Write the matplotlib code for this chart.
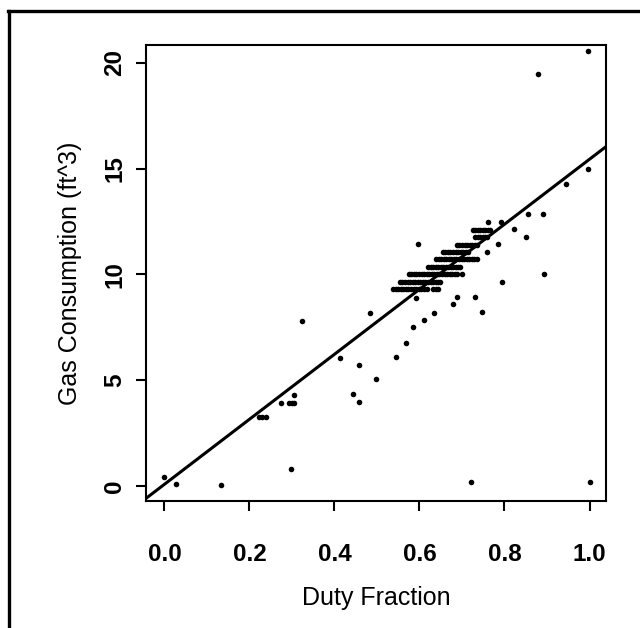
import matplotlib.pyplot as plt
from matplotlib.lines import Line2D

plt.rcParams['font.family'] = ['Liberation Sans', 'DejaVu Sans']

# isolated observations (duty fraction, gas consumption ft^3)
duty = [0.000, 0.027, 0.133, 0.222, 0.230, 0.238, 0.274, 0.294, 0.300, 0.305,
        0.305, 0.298, 0.324, 0.413, 0.444, 0.458, 0.458, 0.483, 0.497, 0.545,
        0.568, 0.585, 0.611, 0.634, 0.680, 0.746, 0.593, 0.688, 0.731, 0.597,
        0.785, 0.758, 0.639, 0.695, 0.701, 0.793, 0.762, 0.792, 0.823, 0.996,
        0.880, 0.996, 0.945, 0.856, 0.891, 0.851, 0.893, 1.000, 0.721]
gas = [0.40, 0.07, 0.05, 3.24, 3.24, 3.24, 3.93, 3.93, 3.93, 3.93,
       4.29, 0.78, 7.81, 6.06, 4.33, 3.96, 5.71, 8.19, 5.05, 6.08,
       6.77, 7.50, 7.84, 8.19, 8.58, 8.21, 8.90, 8.92, 8.92, 11.42,
       11.42, 11.05, 10.71, 10.35, 10.02, 9.65, 12.47, 12.47, 12.13, 20.57,
       19.47, 14.97, 14.28, 12.86, 12.86, 11.78, 10.02, 0.19, 0.18]

# dense runs of readings at the same (quantised) gas value
level_gas = [12.1, 11.75, 11.4, 11.05, 10.7, 10.35, 10.0, 9.65, 9.3]
level_duty = [
    [0.725, 0.731, 0.737, 0.743, 0.749, 0.755, 0.761, 0.766],
    [0.731, 0.737, 0.743, 0.749, 0.755, 0.759],
    [0.688, 0.694, 0.700, 0.706, 0.712, 0.718, 0.724, 0.730, 0.735],
    [0.655, 0.661, 0.667, 0.673, 0.679, 0.685, 0.691, 0.697, 0.703, 0.709, 0.714],
    [0.645, 0.651, 0.657, 0.663, 0.669, 0.675, 0.681, 0.687, 0.693, 0.699,
     0.705, 0.711, 0.717, 0.723, 0.729, 0.735],
    [0.620, 0.626, 0.632, 0.638, 0.644, 0.650, 0.656, 0.662, 0.668, 0.674,
     0.680, 0.686, 0.691],
    [0.575, 0.581, 0.587, 0.593, 0.599, 0.605, 0.611, 0.617, 0.623, 0.629,
     0.635, 0.641, 0.647, 0.653, 0.659, 0.665, 0.671, 0.677, 0.683, 0.689],
    [0.554, 0.560, 0.566, 0.572, 0.578, 0.584, 0.590, 0.596, 0.602, 0.608,
     0.614, 0.620, 0.626, 0.632, 0.638, 0.644, 0.648],
    [0.538, 0.544, 0.550, 0.556, 0.562, 0.568, 0.574, 0.580, 0.586, 0.592,
     0.598, 0.604, 0.610, 0.618, 0.632, 0.638, 0.644],
]

# least squares line
fit_intercept = 0.07
fit_slope = 15.37

x_ticks = [0.0, 0.2, 0.4, 0.6, 0.8, 1.0]
x_ticklabels = ['0.0', '0.2', '0.4', '0.6', '0.8', '1.0']
y_ticks = [0, 5, 10, 15, 20]

fig = plt.figure(figsize=(6.4, 6.28), dpi=100)
ax = fig.add_axes([0.228, 0.2022, 0.719, 0.7264])

ax.plot(duty, gas, 'o', color='black', ms=4.0, mew=0)
for g, xs in zip(level_gas, level_duty):
    ax.plot(xs, [g] * len(xs), 'o', color='black', ms=4.0, mew=0)

ax.axline((0, fit_intercept), slope=fit_slope, color='black', lw=2.2)

ax.set_xlim(-0.0435, 1.039)
ax.set_ylim(-0.72, 20.85)

for sp in ax.spines.values():
    sp.set_linewidth(1.5)

ax.set_xticks(x_ticks)
ax.set_xticklabels(x_ticklabels)
ax.set_yticks(y_ticks)
ax.set_yticklabels([str(v) for v in y_ticks], rotation=90, va='center')
ax.tick_params(axis='both', direction='out', length=7, width=1.5, labelsize=17.5)
ax.tick_params(axis='x', pad=23)
ax.tick_params(axis='y', pad=7)
for lab in ax.get_xticklabels() + ax.get_yticklabels():
    lab.set_fontweight('bold')

ax.set_xlabel('Duty Fraction', fontsize=18)
ax.xaxis.label.set_va('center')
ax.xaxis.set_label_coords(0.5, -0.213)
ax.set_ylabel('Gas Consumption (ft^3)', fontsize=18)
ax.yaxis.label.set_va('center')
ax.yaxis.set_label_coords(-0.165, 0.5)

# outer frame of the original page (only top and left edges visible)
fig.add_artist(Line2D([0.0125, 1.0], [0.9825, 0.9825], transform=fig.transFigure,
                      color='black', lw=2.4))
fig.add_artist(Line2D([0.0140, 0.0140], [0.0, 0.9825], transform=fig.transFigure,
                      color='black', lw=2.4))

fig.savefig('out.png', dpi=100)
